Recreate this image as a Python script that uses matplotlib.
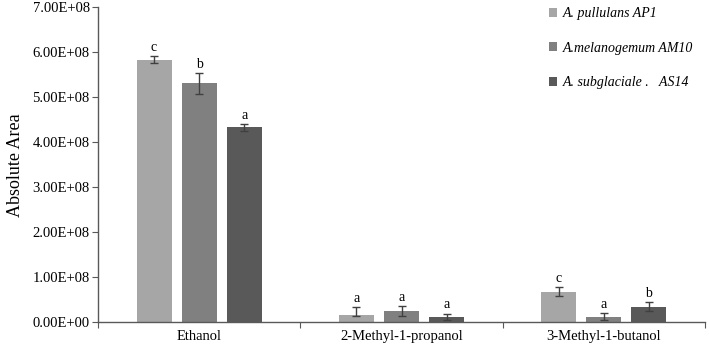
import numpy as np
import matplotlib
matplotlib.use('Agg')
import matplotlib.pyplot as plt

plt.rcParams['font.family'] = ['Liberation Serif', 'DejaVu Serif']

# Data
categories = ['Ethanol', '2-Methyl-1-propanol', '3-Methyl-1-butanol']
strains = ['A. pullulans AP1', 'A.melanogemum AM10', 'A. subglaciale .   AS14']
values = [
    [5.83e8, 0.15e8, 0.67e8],   # AP1
    [5.31e8, 0.24e8, 0.12e8],   # AM10
    [4.33e8, 0.11e8, 0.34e8],   # AS14
]
err_low = [
    [0.08e8, 0.01e8, 0.10e8],
    [0.23e8, 0.11e8, 0.08e8],
    [0.07e8, 0.06e8, 0.09e8],
]
err_high = [
    [0.09e8, 0.19e8, 0.11e8],
    [0.23e8, 0.11e8, 0.08e8],
    [0.07e8, 0.08e8, 0.10e8],
]
letters = [
    ['c', 'a', 'c'],
    ['b', 'a', 'a'],
    ['a', 'a', 'b'],
]
colors = ['#a6a6a6', '#808080', '#595959']

fig = plt.figure(figsize=(7.1, 3.46), dpi=100)
ax = fig.add_axes([0.138, 0.069, 0.855, 0.91])

x = np.arange(len(categories))
offset = 0.223
width = 0.173
for i in range(3):
    xs = x + (i - 1) * offset
    ax.bar(xs, values[i], width=width, color=colors[i], label=strains[i], zorder=2)
    ax.errorbar(xs, values[i], yerr=[err_low[i], err_high[i]], fmt='none',
                ecolor='#404040', elinewidth=1, capsize=3, capthick=1, zorder=3)
    for j in range(len(categories)):
        ax.text(xs[j], values[i][j] + err_high[i][j] + 0.05e8, letters[i][j],
                ha='center', va='bottom', fontsize=10)

ax.set_xlim(-0.5, 2.5)
ax.set_ylim(0, 7e8)
ax.set_yticks(np.arange(0, 8e8, 1e8))
ax.set_yticklabels(['%.2fE+%02d' % (v / 1e8, 8) if v > 0 else '0.00E+00'
                    for v in np.arange(0, 8e8, 1e8)], fontsize=10.5)
ax.set_ylabel('Absolute Area', fontsize=13, labelpad=6)

ax.set_xticks([-0.5, 0.5, 1.5, 2.5])
ax.set_xticklabels([])
ax.set_xticks(x, minor=True)
ax.set_xticklabels(categories, minor=True, fontsize=10.5)
ax.tick_params(axis='x', which='minor', length=0, pad=6)
ax.tick_params(axis='x', which='major', length=4, direction='out', color='#595959')
ax.tick_params(axis='y', length=4, direction='out', color='#595959', pad=2)

for s in ['top', 'right']:
    ax.spines[s].set_visible(False)
for s in ['left', 'bottom']:
    ax.spines[s].set_color('#595959')
    ax.spines[s].set_linewidth(1)

leg = ax.legend(loc='upper left', bbox_to_anchor=(0.722, 1.04), frameon=False,
                handlelength=0.6, handleheight=0.6, handletextpad=0.4,
                labelspacing=1.55, prop={'style': 'italic', 'size': 10})

fig.savefig('out.png', dpi=100)
